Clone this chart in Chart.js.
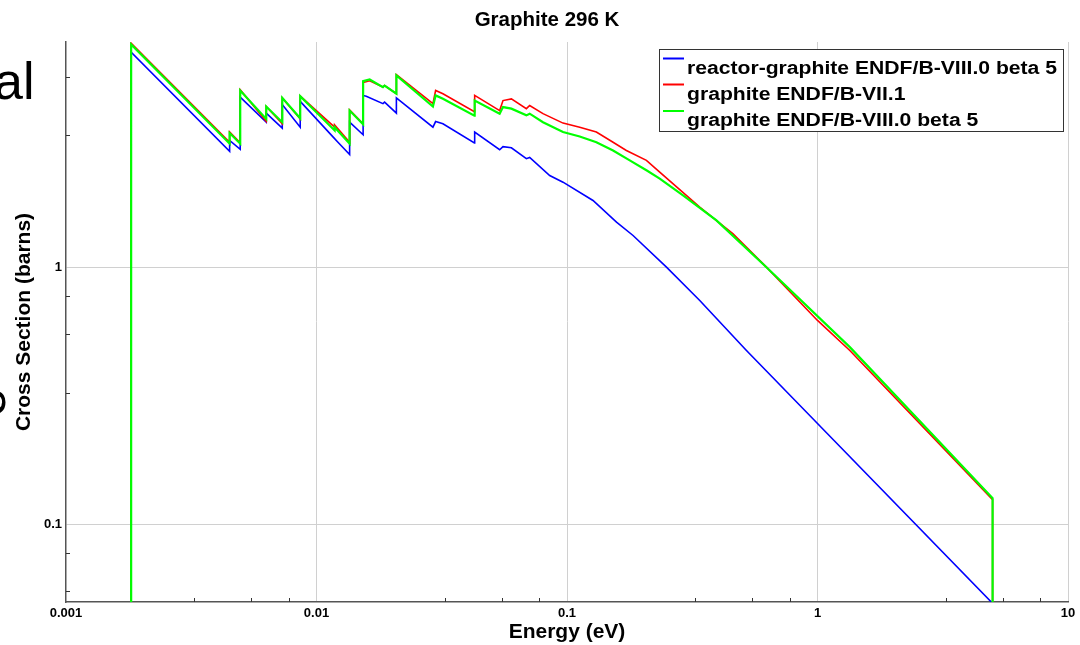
<!DOCTYPE html>
<html>
<head>
<meta charset="utf-8">
<title>Graphite 296 K</title>
<script src="https://cdn.jsdelivr.net/npm/chart.js@4.4.0/dist/chart.umd.min.js"></script>
<style>
  html, body { margin: 0; padding: 0; background: #fff; }
  #wrap { position: relative; width: 1080px; height: 645px; }
</style>
</head>
<body>
<div id="wrap"><canvas id="xsChart" width="1080" height="645"></canvas></div>
<script>
// series names (legend order)
const seriesNames = [
  'reactor-graphite ENDF/B-VIII.0 beta 5',
  'graphite ENDF/B-VII.1',
  'graphite ENDF/B-VIII.0 beta 5'
];

// energy (eV) and cross section (barns)
const reactorE = [0.00182, 0.00182, 0.0045, 0.0045, 0.00496, 0.00496, 0.0063, 0.0063, 0.0073, 0.0073,
  0.00861, 0.00861, 0.01181, 0.0121, 0.01356, 0.01356, 0.01535, 0.01535, 0.0158, 0.01842, 0.0187,
  0.02084, 0.02084, 0.02916, 0.02989, 0.03197, 0.0427, 0.0428, 0.05385, 0.05552, 0.05998, 0.06883,
  0.07096, 0.0853, 0.0964, 0.127, 0.1576, 0.1835, 0.2495, 0.3388, 0.5205, 1.0, 5.0, 5.0];
const reactorXS = [0.01, 6.85, 2.82, 3.11, 2.87, 4.58, 3.66, 3.97, 3.47, 4.29,
  3.50, 4.41, 3.16, 3.08, 2.74, 3.66, 3.27, 4.65, 4.62, 4.32, 4.38,
  3.97, 4.55, 3.50, 3.68, 3.61, 3.04, 3.35, 2.86, 2.94, 2.91, 2.64,
  2.67, 2.27, 2.14, 1.816, 1.496, 1.328, 1.0, 0.742, 0.4745, 0.247, 0.0494, 0.01];

const vii1E = [0.00182, 0.00182, 0.0045, 0.0045, 0.00496, 0.00496, 0.0063, 0.0063, 0.0073, 0.0073,
  0.00861, 0.00861, 0.01181, 0.01181, 0.01356, 0.01356, 0.01535, 0.01535, 0.0163, 0.01842, 0.0187,
  0.02084, 0.02084, 0.02916, 0.02989, 0.03197, 0.0427, 0.0428, 0.05385, 0.05552, 0.05998, 0.06883,
  0.07096, 0.0802, 0.0964, 0.1124, 0.131, 0.1527, 0.1726, 0.2075, 0.2345, 0.3388, 0.4602, 0.6254,
  1.0, 1.346, 5.0, 5.0];
const vii1XS = [0.01, 7.42, 3.06, 3.35, 3.04, 4.89, 3.69, 4.21, 3.61, 4.55,
  3.77, 4.62, 3.50, 3.57, 3.06, 4.08, 3.61, 5.22, 5.30, 5.01, 5.08,
  4.72, 5.60, 4.32, 4.86, 4.72, 4.02, 4.65, 4.06, 4.44, 4.51, 4.13,
  4.25, 3.95, 3.63, 3.50, 3.35, 3.06, 2.84, 2.60, 2.34, 1.711, 1.348, 1.0,
  0.621, 0.4745, 0.125, 0.01];

const viii0E = [0.00182, 0.00182, 0.0045, 0.0045, 0.00496, 0.00496, 0.0063, 0.0063, 0.0073, 0.0073,
  0.00861, 0.00861, 0.01181, 0.01181, 0.01356, 0.01356, 0.01535, 0.01535, 0.0163, 0.01842, 0.0187,
  0.02084, 0.02084, 0.02916, 0.02989, 0.03197, 0.0427, 0.0428, 0.05385, 0.05552, 0.05998, 0.06883,
  0.07096, 0.0802, 0.0964, 0.1124, 0.131, 0.1527, 0.178, 0.2075, 0.2345, 0.2905, 0.395, 0.6254,
  1.346, 5.0, 5.0];
const viii0XS = [0.01, 7.34, 3.02, 3.32, 3.02, 4.86, 3.77, 4.21, 3.66, 4.55,
  3.79, 4.62, 3.40, 3.50, 3.02, 4.06, 3.59, 5.28, 5.36, 5.01, 5.08,
  4.72, 5.56, 4.21, 4.65, 4.51, 3.88, 4.44, 3.95, 4.19, 4.13, 3.89,
  3.95, 3.66, 3.35, 3.22, 3.06, 2.84, 2.60, 2.38, 2.21, 1.90, 1.519, 1.0,
  0.489, 0.1265, 0.01];

// axis ticks
const xTicks = [0.001, 0.01, 0.1, 1, 10];
const yTicks = [0.1, 1];
const minorSteps = [3.25, 5.5, 7.75];

function pts(es, xs) {
  return es.map((e, i) => ({ x: e, y: xs[i] }));
}

const FONT = '"Liberation Sans", Arial, Helvetica, sans-serif';

const decor = {
  id: 'decor',
  beforeDraw(chart) {
    const ctx = chart.ctx;
    ctx.save();
    ctx.fillStyle = '#000';
    ctx.font = '52px ' + FONT;
    ctx.fillText('al', -6, 99);
    ctx.translate(5, 417);
    ctx.rotate(-Math.PI / 2);
    ctx.fillText('e', 0, 0);
    ctx.restore();
  },
  afterDraw(chart) {
    const { ctx, chartArea: a, scales: { x, y } } = chart;
    ctx.save();
    // minor ticks, pointing inward
    ctx.strokeStyle = '#333';
    ctx.lineWidth = 1;
    ctx.beginPath();
    for (let d = -3; d <= 0; d++) {
      for (const m of minorSteps) {
        const px = Math.round(x.getPixelForValue(m * Math.pow(10, d))) + 0.5;
        ctx.moveTo(px, a.bottom);
        ctx.lineTo(px, a.bottom - 4);
      }
    }
    for (let d = -2; d <= 0; d++) {
      for (const m of minorSteps) {
        const v = m * Math.pow(10, d);
        if (v < y.min || v > y.max) continue;
        const py = Math.round(y.getPixelForValue(v)) + 0.5;
        ctx.moveTo(a.left, py);
        ctx.lineTo(a.left + 4, py);
      }
    }
    ctx.stroke();

    // title
    ctx.fillStyle = '#000';
    ctx.font = 'bold 20.5px ' + FONT;
    ctx.textAlign = 'center';
    ctx.textBaseline = 'alphabetic';
    ctx.fillText('Graphite 296 K', 547, 26);

    // legend box
    ctx.textAlign = 'left';
    ctx.fillStyle = '#fff';
    ctx.fillRect(659.5, 49.5, 404, 82);
    ctx.strokeStyle = '#333';
    ctx.lineWidth = 1;
    ctx.strokeRect(659.5, 49.5, 404, 82);
    ctx.font = 'bold 18px ' + FONT;
    const sx = 370 / ctx.measureText(seriesNames[0]).width;
    const rowBase = [73.5, 99.5, 126];
    chart.data.datasets.forEach((ds, i) => {
      ctx.strokeStyle = ds.borderColor;
      ctx.lineWidth = 2;
      ctx.beginPath();
      ctx.moveTo(663, rowBase[i] - 15);
      ctx.lineTo(684, rowBase[i] - 15);
      ctx.stroke();
      ctx.save();
      ctx.translate(687, rowBase[i]);
      ctx.scale(sx, 1);
      ctx.fillStyle = '#000';
      ctx.fillText(ds.label, 0, 0);
      ctx.restore();
    });
    ctx.restore();
  }
};

const ctx = document.getElementById('xsChart').getContext('2d');
const xsChart = new Chart(ctx, {
  type: 'line',
  data: {
    datasets: [{
      label: seriesNames[0],
      data: pts(reactorE, reactorXS),
      borderColor: '#0000ff',
      borderWidth: 1.6,
      order: 3
    }, {
      label: seriesNames[1],
      data: pts(vii1E, vii1XS),
      borderColor: '#ff0000',
      borderWidth: 1.6,
      order: 2
    }, {
      label: seriesNames[2],
      data: pts(viii0E, viii0XS),
      borderColor: '#00ff00',
      borderWidth: 2.2,
      order: 1
    }]
  },
  options: {
    responsive: false,
    animation: false,
    events: [],
    layout: { padding: { left: 0, right: 12, top: 42, bottom: 0 } },
    elements: { point: { radius: 0 }, line: { tension: 0 } },
    plugins: {
      legend: { display: false },
      tooltip: { enabled: false }
    },
    scales: {
      x: {
        type: 'logarithmic',
        min: 0.001,
        max: 10,
        afterBuildTicks: s => { s.ticks = xTicks.map(v => ({ value: v })); },
        afterFit: s => { s.height = 43; },
        ticks: {
          autoSkip: false,
          maxRotation: 0,
          padding: 4,
          color: '#000',
          font: { family: FONT, size: 13, weight: 'bold' },
          callback: v => String(v)
        },
        grid: {
          drawTicks: false,
          lineWidth: 1,
          color: c => (c.tick && c.tick.value === 0.001) ? 'rgba(0,0,0,0)' : '#d0d0d0'
        },
        border: { color: '#555', width: 1.5 },
        title: {
          display: true,
          text: 'Energy (eV)',
          color: '#000',
          font: { family: FONT, size: 21, weight: 'bold' },
          padding: { top: 0, bottom: 0 }
        }
      },
      y: {
        type: 'logarithmic',
        min: 0.05,
        max: 7.5,
        afterBuildTicks: s => { s.ticks = yTicks.map(v => ({ value: v })); },
        afterFit: s => { s.width = 66; },
        ticks: {
          padding: 4,
          color: '#000',
          font: { family: FONT, size: 13, weight: 'bold' },
          callback: v => String(v)
        },
        grid: { drawTicks: false, lineWidth: 1, color: '#d0d0d0' },
        border: { color: '#555', width: 1.5 },
        title: {
          display: true,
          text: 'Cross Section (barns)',
          color: '#000',
          font: { family: FONT, size: 21, weight: 'bold' },
          padding: { top: 12, bottom: 0 }
        }
      }
    }
  },
  plugins: [decor]
});
</script>
</body>
</html>
